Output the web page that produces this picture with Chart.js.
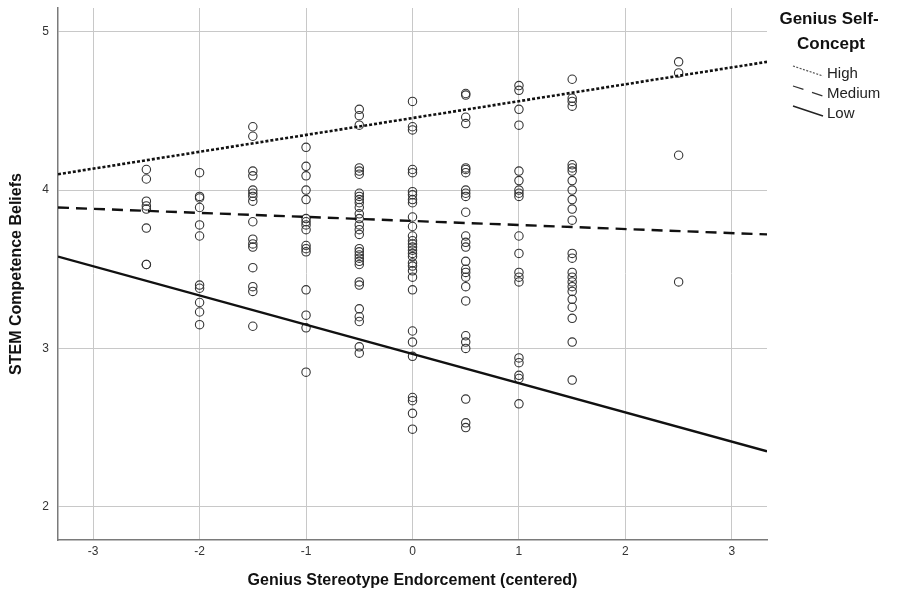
<!DOCTYPE html>
<html>
<head>
<meta charset="utf-8">
<script src="https://cdn.jsdelivr.net/npm/chart.js@4.4.1/dist/chart.umd.min.js"></script>
<style>
  html, body { margin: 0; padding: 0; background: #fff; }
  #wrap { width: 898px; height: 596px; position: relative; }
</style>
</head>
<body>
<div id="wrap"><canvas id="chart"></canvas></div>
<script>
// x positions of the observed columns (centered endorsement)
const xLevels = [-2.5, -2, -1.5, -1, -0.5, 0, 0.5, 1, 1.5, 2.5];

// STEM competence beliefs observed at each x level
const yAtM25 = [4.13, 4.07, 3.93, 3.90, 3.88, 3.76, 3.53, 3.53];
const yAtM20 = [4.11, 3.96, 3.95, 3.89, 3.78, 3.71, 3.40, 3.38, 3.29, 3.23, 3.15];
const yAtM15 = [4.40, 4.34, 4.12, 4.09, 4.00, 3.98, 3.96, 3.93, 3.80, 3.69, 3.66, 3.64, 3.51, 3.39, 3.36, 3.14];
const yAtM10 = [4.27, 4.15, 4.09, 4.00, 3.94, 3.82, 3.80, 3.78, 3.75, 3.65, 3.63, 3.61, 3.37, 3.21, 3.13, 2.85];
const yAtM05 = [4.51, 4.47, 4.41, 4.14, 4.12, 4.10, 3.98, 3.96, 3.94, 3.92, 3.89, 3.85, 3.82, 3.78, 3.75, 3.72,
                3.63, 3.61, 3.59, 3.57, 3.55, 3.53, 3.42, 3.40, 3.25, 3.20, 3.17, 3.01, 2.97];
const yAt00  = [4.56, 4.40, 4.38, 4.13, 4.11, 3.99, 3.97, 3.94, 3.92, 3.83, 3.77, 3.71, 3.68, 3.66, 3.64, 3.62,
                3.60, 3.58, 3.54, 3.52, 3.49, 3.45, 3.37, 3.11, 3.04, 2.95, 2.69, 2.67, 2.59, 2.49];
const yAtP05 = [4.61, 4.60, 4.46, 4.42, 4.14, 4.13, 4.11, 4.00, 3.98, 3.96, 3.86, 3.71, 3.67, 3.64, 3.55, 3.50,
                3.48, 3.45, 3.39, 3.30, 3.08, 3.04, 3.00, 2.68, 2.53, 2.50];
const yAtP10 = [4.66, 4.63, 4.51, 4.41, 4.12, 4.06, 4.00, 3.98, 3.96, 3.71, 3.60, 3.48, 3.45, 3.42, 2.94, 2.91,
                2.83, 2.81, 2.65];
const yAtP15 = [4.70, 4.58, 4.56, 4.53, 4.16, 4.14, 4.12, 4.06, 4.00, 3.94, 3.88, 3.81, 3.60, 3.57, 3.48, 3.45,
                3.42, 3.39, 3.36, 3.31, 3.26, 3.19, 3.04, 2.80];
const yAtP25 = [4.81, 4.74, 4.22, 3.42];

// simple slopes (fit line end points)
const fitX = [-3.33, 3.33];
const fitHigh = [4.10, 4.81];
const fitMedium = [3.89, 3.72];
const fitLow = [3.58, 2.35];

const legendLabels = ['High', 'Medium', 'Low'];
const legendTitle = ['Genius Self-', 'Concept'];

const FONT = 'Arial, "Liberation Sans", sans-serif';
const columns = [yAtM25, yAtM20, yAtM15, yAtM10, yAtM05, yAt00, yAtP05, yAtP10, yAtP15, yAtP25];
const points = [];
xLevels.forEach((x, i) => columns[i].forEach(y => points.push({ x, y })));

const toLine = ys => fitX.map((x, i) => ({ x, y: ys[i] }));

// legend drawn at the right side, SPSS style (little slanted line samples)
const sideLegend = {
  id: 'sideLegend',
  afterDraw(chart) {
    const ctx = chart.ctx;
    ctx.save();
    ctx.fillStyle = '#111';
    ctx.font = 'bold 17px ' + FONT;
    ctx.textAlign = 'center';
    ctx.textBaseline = 'alphabetic';
    ctx.fillText(legendTitle[0], 829, 24);
    ctx.fillText(legendTitle[1], 831, 49);

    const dashes = [[2, 1.5], [11, 9], []];
    const colors = ['#555', '#333', '#222'];
    const widths = [1.2, 1.3, 1.4];
    ctx.font = '15px ' + FONT;
    ctx.textAlign = 'left';
    legendLabels.forEach((lab, i) => {
      const base = 78 + i * 20;
      ctx.strokeStyle = colors[i];
      ctx.lineWidth = widths[i];
      ctx.setLineDash(dashes[i]);
      ctx.beginPath();
      ctx.moveTo(793, base - 12);
      ctx.lineTo(823, base - 2);
      ctx.stroke();
      ctx.setLineDash([]);
      ctx.fillStyle = '#222';
      ctx.fillText(lab, 827, base);
    });
    ctx.restore();
  }
};

new Chart(document.getElementById('chart'), {
  type: 'scatter',
  data: {
    datasets: [
      {
        label: 'points',
        data: points,
        pointStyle: 'circle',
        pointRadius: 4.2,
        borderColor: '#333',
        borderWidth: 1.1,
        backgroundColor: 'rgba(0,0,0,0)',
        order: 2
      },
      {
        label: 'High',
        type: 'line',
        data: toLine(fitHigh),
        borderColor: '#111',
        borderWidth: 2.6,
        borderDash: [3, 2],
        pointRadius: 0,
        fill: false,
        order: 1
      },
      {
        label: 'Medium',
        type: 'line',
        data: toLine(fitMedium),
        borderColor: '#111',
        borderWidth: 2.4,
        borderDash: [11, 7],
        pointRadius: 0,
        fill: false,
        order: 1
      },
      {
        label: 'Low',
        type: 'line',
        data: toLine(fitLow),
        borderColor: '#111',
        borderWidth: 2.4,
        pointRadius: 0,
        fill: false,
        order: 1
      }
    ]
  },
  options: {
    responsive: true,
    maintainAspectRatio: false,
    animation: false,
    layout: { padding: { top: 8, right: 131, left: 0, bottom: 0 } },
    plugins: {
      legend: { display: false },
      tooltip: { enabled: false }
    },
    scales: {
      x: {
        type: 'linear',
        min: fitX[0],
        max: fitX[1],
        afterFit: s => { s.height = 56; s.paddingLeft = 0; s.paddingRight = 0; },
        ticks: {
          stepSize: 1,
          includeBounds: false,
          padding: 4,
          color: '#333',
          font: { family: FONT, size: 12 }
        },
        grid: { color: '#c8c8c8', lineWidth: 1, drawTicks: false },
        border: { color: '#7a7a7a', width: 1.5 },
        title: {
          display: true,
          text: 'Genius Stereotype Endorcement (centered)',
          color: '#111',
          font: { family: FONT, size: 16, weight: 'bold' },
          padding: { top: 0, bottom: 6 }
        }
      },
      y: {
        type: 'linear',
        min: 1.79,
        max: 5.15,
        afterFit: s => { s.width = 58; s.paddingTop = 0; s.paddingBottom = 0; },
        ticks: {
          stepSize: 1,
          includeBounds: false,
          padding: 9,
          color: '#333',
          font: { family: FONT, size: 12 }
        },
        grid: { color: '#c8c8c8', lineWidth: 1, drawTicks: false },
        border: { color: '#7a7a7a', width: 1.5 },
        title: {
          display: true,
          text: 'STEM Competence Beliefs',
          color: '#111',
          font: { family: FONT, size: 16, weight: 'bold' },
          padding: { top: 7, bottom: 0 }
        }
      }
    }
  },
  plugins: [sideLegend]
});
</script>
</body>
</html>
